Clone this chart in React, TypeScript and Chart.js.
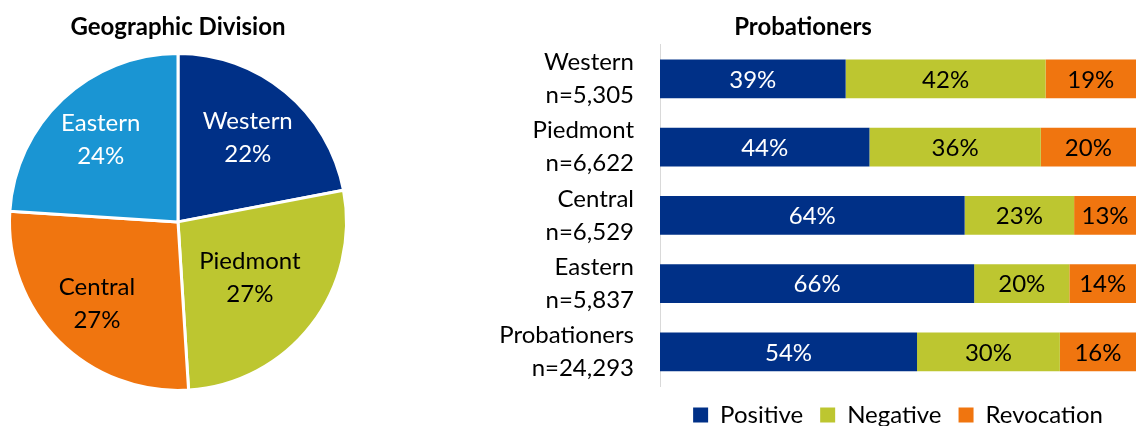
import React, { useEffect, useRef } from 'react';
import { Chart, registerables } from 'chart.js';

Chart.register(...registerables);

// ---- Data ----
const divisionLabels = ['Western', 'Piedmont', 'Central', 'Eastern'];
const divisionShares = [22, 27, 27, 24];

const barCategories = ['Western', 'Piedmont', 'Central', 'Eastern', 'Probationers'];
const barCounts = ['n=5,305', 'n=6,622', 'n=6,529', 'n=5,837', 'n=24,293'];
const seriesNames = ['Positive', 'Negative', 'Revocation'];
const positiveValues = [39, 44, 64, 66, 54];
const negativeValues = [42, 36, 23, 20, 30];
const revocationValues = [19, 20, 13, 14, 16];

// ---- Styles ----
const FONT = 'Lato, "Open Sans", "Liberation Sans", sans-serif';
const NAVY = '#003087';
const LIME = '#BDC630';
const ORANGE = '#F0750F';
const SKY = '#1A95D3';
const divisionColors = [NAVY, LIME, ORANGE, SKY];
const divisionTextColors = ['#ffffff', '#000000', '#000000', '#ffffff'];
const divisionLabelRadius = [0.65, 0.54, 0.68, 0.67];
const seriesColors = [NAVY, LIME, ORANGE];
const seriesTextColors = ['#ffffff', '#000000', '#000000'];

const pieLabelPlugin = {
  id: 'pieLabels',
  afterDatasetsDraw(chart: any) {
    const ctx = chart.ctx;
    const meta = chart.getDatasetMeta(0);
    ctx.save();
    ctx.font = `24px ${FONT}`;
    ctx.textAlign = 'center';
    ctx.textBaseline = 'middle';
    meta.data.forEach((arc: any, i: number) => {
      const p = arc.getProps(['x', 'y', 'startAngle', 'endAngle', 'outerRadius'], true);
      const mid = (p.startAngle + p.endAngle) / 2;
      const r = p.outerRadius * divisionLabelRadius[i];
      const cx = p.x + Math.cos(mid) * r;
      const cy = p.y + Math.sin(mid) * r;
      ctx.fillStyle = divisionTextColors[i];
      ctx.fillText(divisionLabels[i], cx, cy - 16);
      ctx.fillText(`${divisionShares[i]}%`, cx, cy + 17);
    });
    ctx.restore();
  },
};

const barLabelPlugin = {
  id: 'barLabels',
  afterDatasetsDraw(chart: any) {
    const ctx = chart.ctx;
    ctx.save();
    ctx.font = `24px ${FONT}`;
    ctx.textAlign = 'center';
    ctx.textBaseline = 'middle';
    chart.data.datasets.forEach((ds: any, di: number) => {
      const meta = chart.getDatasetMeta(di);
      meta.data.forEach((bar: any, i: number) => {
        const p = bar.getProps(['x', 'y', 'base'], true);
        ctx.fillStyle = seriesTextColors[di];
        ctx.fillText(`${ds.data[i]}%`, (p.x + p.base) / 2, p.y + 1);
      });
    });
    ctx.restore();
  },
};

function PieChart() {
  const ref = useRef<HTMLCanvasElement>(null);
  useEffect(() => {
    const chart = new Chart(ref.current!, {
      type: 'pie',
      data: {
        labels: divisionLabels,
        datasets: [
          {
            data: divisionShares,
            backgroundColor: divisionColors,
            borderColor: '#ffffff',
            borderWidth: 3,
          },
        ],
      },
      options: {
        responsive: false,
        animation: false,
        layout: { padding: { left: 8, right: 39, top: 0, bottom: 34 } },
        plugins: {
          legend: { display: false },
          tooltip: { enabled: false },
          title: {
            display: true,
            text: 'Geographic Division',
            color: '#000000',
            font: { family: FONT, size: 24, weight: 'bold', lineHeight: 1.2 },
            padding: { top: 13, bottom: 10 },
          },
        },
      },
      plugins: [pieLabelPlugin],
    } as any);
    return () => chart.destroy();
  }, []);
  return <canvas ref={ref} width={387} height={426} />;
}

function BarChart() {
  const ref = useRef<HTMLCanvasElement>(null);
  useEffect(() => {
    const labels = barCategories.map((c, i) => [c, barCounts[i]]);
    const values = [positiveValues, negativeValues, revocationValues];
    const chart = new Chart(ref.current!, {
      type: 'bar',
      data: {
        labels,
        datasets: seriesNames.map((name, i) => ({
          label: name,
          data: values[i],
          backgroundColor: seriesColors[i],
          borderWidth: 0,
          barPercentage: 0.57,
          categoryPercentage: 1,
        })),
      },
      options: {
        indexAxis: 'y',
        responsive: false,
        animation: false,
        layout: { padding: { left: 0, right: 0, top: 0, bottom: -11 } },
        scales: {
          x: { stacked: true, display: false, min: 0, max: 100 },
          y: {
            stacked: true,
            grid: { display: false, drawTicks: false },
            border: { display: true, color: '#D9D9D9', width: 1 },
            ticks: {
              color: '#000000',
              padding: 26,
              autoSkip: false,
              font: { family: FONT, size: 24, lineHeight: 1.375 },
            },
            afterFit(scale: any) {
              scale.width = 190;
              scale.paddingTop = 0;
              scale.paddingBottom = 0;
            },
          },
        },
        plugins: {
          tooltip: { enabled: false },
          title: {
            display: true,
            text: 'Probationers',
            color: '#000000',
            font: { family: FONT, size: 24, weight: 'bold', lineHeight: 1.2 },
            padding: { top: 13, bottom: 3 },
          },
          legend: {
            position: 'bottom',
            fullSize: false,
            labels: {
              boxWidth: 15,
              boxHeight: 15,
              padding: 17,
              color: '#000000',
              font: { family: FONT, size: 24 },
            },
          },
        },
      },
      plugins: [barLabelPlugin],
    } as any);
    return () => chart.destroy();
  }, []);
  return <canvas ref={ref} width={666} height={426} />;
}

export default function App() {
  return (
    <div style={{ position: 'fixed', left: 0, top: 0, width: 1136, height: 426, background: '#ffffff' }}>
      <div style={{ position: 'absolute', left: 0, top: 0 }}>
        <PieChart />
      </div>
      <div style={{ position: 'absolute', left: 470, top: 0 }}>
        <BarChart />
      </div>
    </div>
  );
}
